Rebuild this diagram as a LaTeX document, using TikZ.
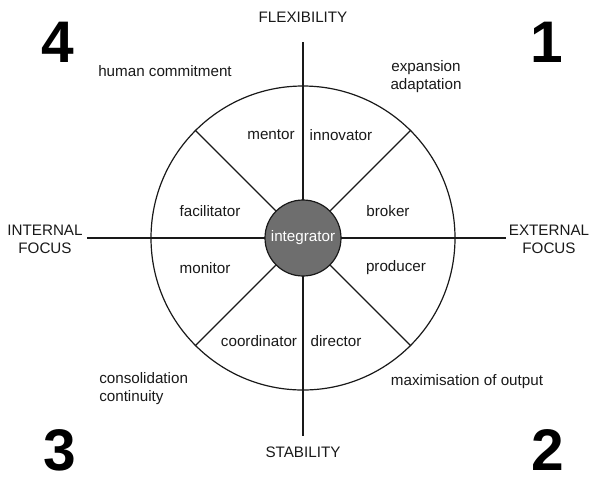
\documentclass[tikz,border=0pt]{standalone}
\usepackage{fontspec}
\setmainfont{Liberation Sans}
\usepackage{xcolor}
\usetikzlibrary{positioning}

\definecolor{coregray}{gray}{0.43}
\definecolor{inkgray}{gray}{0.1}

\tikzset{
  role/.style={font=\fontsize{11.4}{13.5}\selectfont, text=inkgray, inner sep=0pt},
  axislabel/.style={role, align=center},
  quadnum/.style={font=\fontsize{44}{44}\selectfont\bfseries, inner sep=0pt},
  axisline/.style={line width=1.1pt, draw=inkgray},
}

\begin{document}
\begin{tikzpicture}[x=0.75pt, y=-0.75pt]

        \useasboundingbox (0,0) rectangle (591,482);

        % axes
        \coordinate (flexend) at (303,42);
        \coordinate (stabend) at (303,436);
        \coordinate (intend) at (87,238);
        \coordinate (extend) at (506,238);
        \draw[axisline] (flexend) -- (stabend);
        \draw[axisline] (intend) -- (extend);

        \node[axislabel] (flex) at (303,17) {FLEXIBILITY};
        \node[axislabel] (stab) at (303,452) {STABILITY};
        \node[axislabel] (internal) at (45,239) {INTERNAL\\FOCUS};
        \node[axislabel] (external) at (549,239) {EXTERNAL\\FOCUS};

        % wheel
        \node[circle, draw=inkgray, line width=0.9pt, minimum size=228pt] (wheel) at (303,238) {};
        \node[circle, draw=inkgray, fill=coregray, line width=0.9pt, minimum size=57pt,
              font=\fontsize{11.4}{13}\selectfont, text=white, inner sep=0pt] (core) at (303,238) {integrator};
        \foreach \a in {45,135,225,315}
            \draw[line width=0.9pt, inkgray] (core.\a) -- (wheel.\a);

        % roles
        \node[role] (mentor) at (271,135) {mentor};
        \node[role] (innovator) at (341,135) {innovator};
        \node[role] (facilitator) at (210,211) {facilitator};
        \node[role] (broker) at (388,211) {broker};
        \node[role] (monitor) at (205,268) {monitor};
        \node[role] (producer) at (396,268) {producer};
        \node[role] (coordinator) at (259,341) {coordinator};
        \node[role] (director) at (336,341) {director};

        % quadrant aims
        \node[role] (commit) at (165,71) {human commitment};
        \node[role, align=center] (expand) at (426,77) {expansion\\adaptation};
        \node[role, align=left, anchor=west] (consol) at (99,389) {consolidation\\continuity};
        \node[role] (maxout) at (467,382) {maximisation of output};

        \node[quadnum] (q4) at (58,42) {4};
        \node[quadnum] (q1) at (547,42) {1};
        \node[quadnum] (q3) at (60,450) {3};
        \node[quadnum] (q2) at (548,450) {2};

\end{tikzpicture}
\end{document}
